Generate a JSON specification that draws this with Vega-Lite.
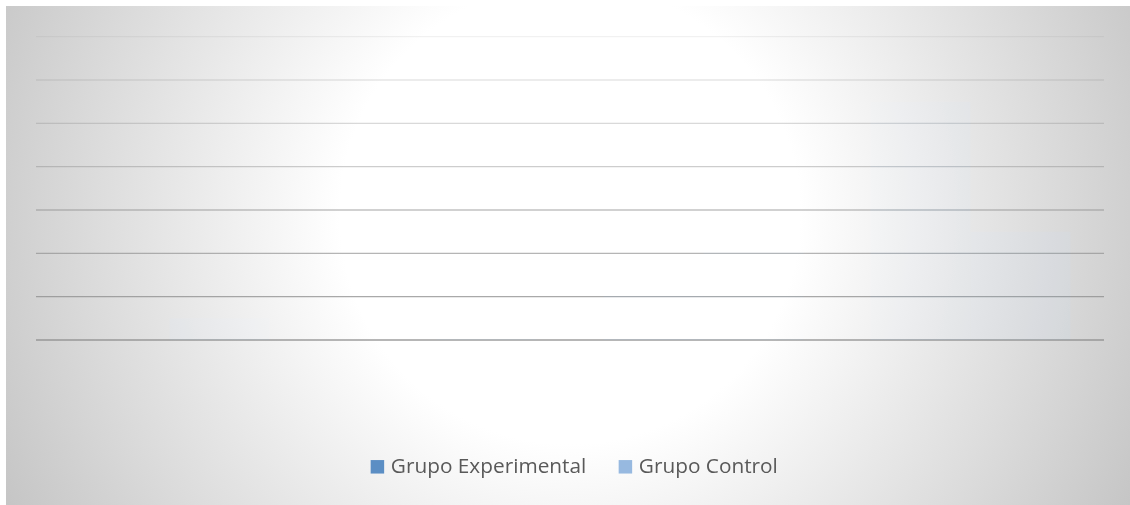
{
  "$schema": "https://vega.github.io/schema/vega-lite/v6.json",
  "width": 1124,
  "height": 499,
  "autosize": "none",
  "padding": {"left": 6, "top": 6, "right": 0, "bottom": 0},
  "background": "#ffffff",
  "config": {"view": {"stroke": "#d9d9d9", "strokeWidth": 1}},
  "datasets": {
    "fondo": [{"capa": "fondo"}],
    "grid": [{"g": 0}, {"g": 1}, {"g": 2}, {"g": 3}, {"g": 4}, {"g": 5}, {"g": 6}, {"g": 7}],
    "barras": [
      {"categoria": "C1", "grupo": "Grupo Experimental", "valor": 0},
      {"categoria": "C1", "grupo": "Grupo Control", "valor": 0.5},
      {"categoria": "C2", "grupo": "Grupo Experimental", "valor": 0},
      {"categoria": "C2", "grupo": "Grupo Control", "valor": 0.5},
      {"categoria": "C3", "grupo": "Grupo Experimental", "valor": 1.5},
      {"categoria": "C3", "grupo": "Grupo Control", "valor": 2.5},
      {"categoria": "C4", "grupo": "Grupo Experimental", "valor": 5.5},
      {"categoria": "C4", "grupo": "Grupo Control", "valor": 2.5}
    ]
  },
  "layer": [
    {
      "data": {"name": "fondo"},
      "mark": {
        "type": "circle",
        "size": 1690000,
        "opacity": 1,
        "clip": true,
        "strokeWidth": 0,
        "fill": {
          "gradient": "radial",
          "x1": 0.5, "y1": 0.5, "r1": 0,
          "x2": 0.5, "y2": 0.5, "r2": 0.5,
          "stops": [
            {"offset": 0, "color": "#ffffff"},
            {"offset": 0.354, "color": "#ffffff"},
            {"offset": 1, "color": "#c3c3c3"}
          ]
        }
      },
      "encoding": {
        "x": {"datum": "C3", "type": "nominal", "bandPosition": 0,
              "scale": {"type": "band", "domain": ["C1", "C2", "C3", "C4"], "paddingInner": 0, "paddingOuter": 0.10487, "align": 0.5357},
              "axis": null},
        "y": {"datum": 2.9, "type": "quantitative",
              "scale": {"domain": [-3.808, 7.708], "nice": false, "zero": false},
              "axis": null}
      }
    },
    {
      "data": {"name": "grid"},
      "mark": {"type": "rule", "stroke": "#8c8c8c", "strokeWidth": 1.3},
      "encoding": {
        "x": {"datum": "C1", "type": "nominal", "bandPosition": 0,
              "scale": {"type": "band", "domain": ["C1", "C2", "C3", "C4"], "paddingInner": 0, "paddingOuter": 0.10487, "align": 0.5357},
              "axis": null},
        "x2": {"datum": "C4", "bandPosition": 1},
        "y": {"field": "g", "type": "quantitative",
              "scale": {"domain": [-3.808, 7.708], "nice": false, "zero": false},
              "axis": null},
        "opacity": {"field": "g", "type": "quantitative",
                    "scale": {"domain": [0, 7], "range": [0.85, 0.12]},
                    "legend": null}
      }
    },
    {
      "data": {"name": "barras"},
      "mark": {"type": "bar", "blend": "color", "opacity": 0.1},
      "encoding": {
        "x": {"field": "categoria", "type": "nominal",
              "scale": {"type": "band", "domain": ["C1", "C2", "C3", "C4"], "paddingInner": 0, "paddingOuter": 0.10487, "align": 0.5357},
              "axis": null},
        "xOffset": {"field": "grupo", "type": "nominal",
                    "scale": {"domain": ["Grupo Experimental", "Grupo Control"], "paddingInner": 0, "paddingOuter": 0.335}},
        "y": {"field": "valor", "type": "quantitative",
              "scale": {"domain": [-3.808, 7.708], "nice": false, "zero": false},
              "axis": null},
        "y2": {"datum": 0},
        "color": {"field": "grupo", "type": "nominal",
                  "scale": {"domain": ["Grupo Experimental", "Grupo Control"], "range": ["#5b8ec4", "#97b9e0"]},
                  "legend": {
                    "title": null,
                    "orient": "none",
                    "legendX": 361,
                    "legendY": 450,
                    "direction": "horizontal",
                    "symbolType": "square",
                    "symbolSize": 182,
                    "symbolOpacity": 1,
                    "symbolStrokeWidth": 0,
                    "labelFont": "Open Sans",
                    "labelFontSize": 20.8,
                    "labelColor": "#595959",
                    "labelOffset": 3,
                    "labelLimit": 0,
                    "columnPadding": 28
                  }}
      }
    }
  ]
}
